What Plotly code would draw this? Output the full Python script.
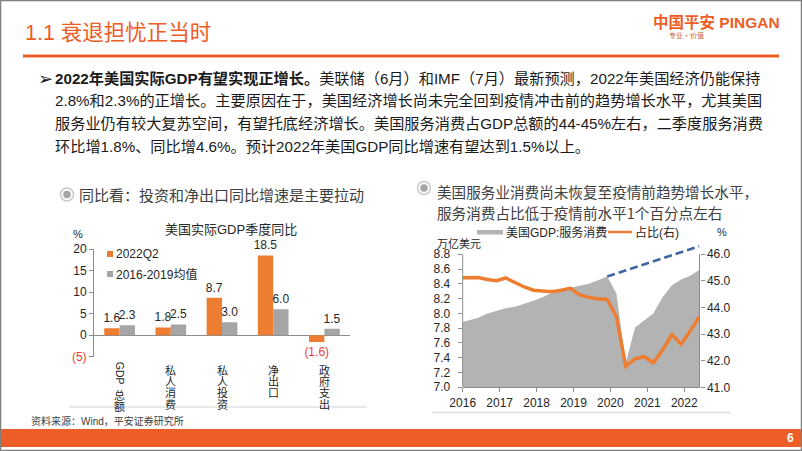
import re
import plotly.graph_objects as go

W, H = 802, 451


def px(x):
    return x / W


def py(y):
    return 1 - y / H


# ---------------- data: left chart ----------------
gdp_categories = ["GDP总额", "私人消费", "私人投资", "净出口", "政府支出"]
gdp_q2_2022 = [1.6, 1.8, 8.7, 18.5, -1.6]
gdp_avg_2016_2019 = [2.3, 2.5, 3.0, 6.0, 1.5]
left_tick_vals = [-5, 0, 5, 10, 15, 20]
left_tick_text = ["(5)", "0", "5", "10", "15", "20"]

# ---------------- data: right chart ----------------
quarters = ["2015-12", "2016-03", "2016-06", "2016-09", "2016-12",
            "2017-03", "2017-06", "2017-09", "2017-12",
            "2018-03", "2018-06", "2018-09", "2018-12",
            "2019-03", "2019-06", "2019-09", "2019-12",
            "2020-03", "2020-06", "2020-09", "2020-12",
            "2021-03", "2021-06", "2021-09", "2021-12",
            "2022-03", "2022-06"]
services_consumption = [7.87, 7.91, 7.94, 8.00, 8.04,
                        8.07, 8.09, 8.13, 8.17,
                        8.22, 8.28, 8.32, 8.35,
                        8.38, 8.40, 8.45, 8.50,
                        8.27, 7.33, 7.81, 7.91,
                        8.00, 8.22, 8.38, 8.46,
                        8.51, 8.59]
services_share = [45.12, 45.12, 45.13, 45.05, 45.01,
                  45.11, 44.93, 44.77, 44.65,
                  44.61, 44.59, 44.65, 44.72,
                  44.48, 44.38, 44.33, 44.30,
                  43.65, 41.80, 42.07, 42.15,
                  41.92, 42.40, 42.98, 42.62,
                  43.12, 43.66]
trend_dates = ["2019-12", "2022-06"]
trend_values = [8.50, 8.91]
left_axis_vals = [7.0, 7.2, 7.4, 7.6, 7.8, 8.0, 8.2, 8.4, 8.6, 8.8]
right_axis_vals = [41, 42, 43, 44, 45, 46]

# ---------------- styles ----------------
PA_ORANGE = "#EC5D27"
BAR_ORANGE = "#ED7D31"
BAR_GRAY = "#A5A5A5"
AREA_GRAY = "#B3B3B3"
TREND_BLUE = "#3E66A0"
NEG_RED = "#F03C3C"
TXT = "#262626"
AXIS = "#8C8C8C"
SANS = "Liberation Sans, Arial, Noto Sans CJK SC"
CJK = "Noto Sans CJK SC"
NARROW = "Liberation Sans Narrow, Arial Narrow, Liberation Sans, Noto Sans CJK SC"


def fmt_val(v):
    return f"({abs(v):.1f})" if v < 0 else f"{v:.1f}"


fig = go.Figure()

# ---- left chart bars ----
fig.add_trace(go.Bar(
    x=gdp_categories, y=gdp_q2_2022, name="2022Q2",
    marker=dict(color=BAR_ORANGE, line=dict(width=0)),
    text=[fmt_val(v) for v in gdp_q2_2022], textposition="outside",
    textfont=dict(family=SANS, size=12,
                  color=[NEG_RED if v < 0 else TXT for v in gdp_q2_2022]),
    cliponaxis=False, constraintext="none",
    xaxis="x", yaxis="y", showlegend=False, hoverinfo="skip"))
fig.add_trace(go.Bar(
    x=gdp_categories, y=gdp_avg_2016_2019, name="2016-2019均值",
    marker=dict(color=BAR_GRAY, line=dict(width=0)),
    text=[fmt_val(v) for v in gdp_avg_2016_2019], textposition="outside",
    textfont=dict(family=SANS, size=12,
                  color=[NEG_RED if v < 0 else TXT for v in gdp_avg_2016_2019]),
    cliponaxis=False, constraintext="none",
    xaxis="x", yaxis="y", showlegend=False, hoverinfo="skip"))

# ---- right chart ----
fig.add_trace(go.Scatter(
    x=quarters, y=services_consumption, name="美国GDP:服务消费",
    mode="lines", fill="tozeroy", fillcolor=AREA_GRAY,
    line=dict(width=0, color=AREA_GRAY),
    xaxis="x2", yaxis="y2", showlegend=False, hoverinfo="skip"))
fig.add_trace(go.Scatter(
    x=trend_dates, y=trend_values, mode="lines",
    line=dict(color=TREND_BLUE, width=2.5, dash="8px,4px"),
    xaxis="x2", yaxis="y2", showlegend=False, hoverinfo="skip"))
fig.add_trace(go.Scatter(
    x=quarters, y=services_share, name="占比(右)", mode="lines",
    line=dict(color=BAR_ORANGE, width=3.5),
    xaxis="x2", yaxis="y3", showlegend=False, hoverinfo="skip"))

# right chart geometry (pixels)
R_LEFT, R_RIGHT = 462.7, 699.5
R_BOTTOM, PX_PER_UNIT = 387.3, 73.9
Y2_TOP_VAL = 8.95
R_TOP = R_BOTTOM - (Y2_TOP_VAL - 7.0) * PX_PER_UNIT
Y3_TOP_VAL = 41 + (Y2_TOP_VAL - 7.0) / 1.8 * 5

axis_font = dict(family=SANS, size=12, color=TXT)

fig.update_layout(
    width=W, height=H,
    margin=dict(l=0, r=0, t=0, b=0, pad=0, autoexpand=False),
    paper_bgcolor="white", plot_bgcolor="rgba(0,0,0,0)",
    barmode="group", bargap=0.4, bargroupgap=0.0,
    showlegend=False,
    xaxis=dict(domain=[px(94), px(350)], anchor="y", type="category",
               showticklabels=False, showline=False, ticks="",
               showgrid=False, zeroline=False, fixedrange=True, automargin=False),
    yaxis=dict(domain=[py(356.7), py(249)], anchor="x", range=[-5, 20],
               tickmode="array", tickvals=left_tick_vals,
               ticktext=[f'<span style="color:{NEG_RED}">{t}</span>' if v < 0 else t
                         for v, t in zip(left_tick_vals, left_tick_text)],
               showline=True, linecolor=AXIS, linewidth=1,
               ticks="outside", ticklen=4, tickcolor=AXIS,
               showgrid=False, zeroline=True, zerolinecolor=AXIS,
               zerolinewidth=1, tickfont=axis_font, fixedrange=True, automargin=False),
    xaxis2=dict(domain=[px(R_LEFT), px(R_RIGHT)], anchor="y2", type="date",
                range=["2016-01-01", "2022-06-01"],
                tick0="2016-01-01", dtick="M12", tickformat="%Y",
                showline=True, linecolor=AXIS, linewidth=1,
                ticks="outside", ticklen=4, tickcolor=AXIS,
                showgrid=False, zeroline=False, tickfont=axis_font,
                fixedrange=True, automargin=False),
    yaxis2=dict(domain=[py(R_BOTTOM), py(R_TOP)], anchor="x2",
                range=[7.0, Y2_TOP_VAL], tickmode="array",
                tickvals=left_axis_vals,
                ticktext=[f"{v:.1f}" for v in left_axis_vals],
                showline=False, ticks="outside", ticklen=4, tickcolor=AXIS,
                ticklabelstandoff=5,
                showgrid=False, zeroline=False, tickfont=axis_font,
                fixedrange=True, automargin=False),
    yaxis3=dict(overlaying="y2", side="right", anchor="x2",
                range=[41, Y3_TOP_VAL], tickmode="array",
                tickvals=right_axis_vals,
                ticktext=[f"{v:.1f}" for v in right_axis_vals],
                showline=False, ticks="outside", ticklen=4, tickcolor=AXIS,
                showgrid=False, zeroline=False, tickfont=axis_font,
                fixedrange=True, automargin=False),
)

shapes = []
annotations = []


def rect_px(x0, y0, x1, y1, fill, line_color=None, lw=0):
    shapes.append(dict(type="rect", xref="paper", yref="paper",
                       x0=px(x0), x1=px(x1), y0=py(y1), y1=py(y0),
                       fillcolor=fill, line=dict(width=lw, color=line_color or fill),
                       layer="above"))


def line_px(x0, y0, x1, y1, color, width, dash=None):
    shapes.append(dict(type="line", xref="paper", yref="paper",
                       x0=px(x0), x1=px(x1), y0=py(y0), y1=py(y1),
                       line=dict(color=color, width=width, dash=dash),
                       layer="above"))


def text_px(x, y, text, size, color=TXT, family=CJK, xanchor="left",
            yanchor="middle", angle=0):
    annotations.append(dict(xref="paper", yref="paper", x=px(x), y=py(y),
                            text=text, showarrow=False, xanchor=xanchor,
                            yanchor=yanchor, textangle=angle, borderpad=0,
                            font=dict(size=size, color=color, family=family)))


def radio_icon(cx, cy):
    shapes.append(dict(type="circle", xref="paper", yref="paper",
                       x0=px(cx - 6.5), x1=px(cx + 6.5), y0=py(cy + 6.5), y1=py(cy - 6.5),
                       fillcolor="white", line=dict(color="#C9C9C9", width=1.5)))
    shapes.append(dict(type="circle", xref="paper", yref="paper",
                       x0=px(cx - 3.8), x1=px(cx + 3.8), y0=py(cy + 3.8), y1=py(cy - 3.8),
                       fillcolor="#A6A6A6", line=dict(width=0)))


# ---- slide frame ----
rect_px(0, 429, 802, 447, PA_ORANGE)
line_px(23, 56, 779, 56, PA_ORANGE, 3)
shapes.append(dict(type="rect", xref="paper", yref="paper",
                   x0=px(0.5), x1=px(801.5), y0=py(450.5), y1=py(0.5),
                   line=dict(color="#7F7F7F", width=1.5), layer="above"))

# title and logo
text_px(24, 33, "1.1 衰退担忧正当时", 21.5, PA_ORANGE, "Liberation Sans, Noto Sans CJK SC")
text_px(652, 22, "<b>中国平安 PINGAN</b>", 15.5, PA_ORANGE, "Liberation Sans, Noto Sans CJK SC")
text_px(668, 35, "专业·价值", 7, "#D06030", CJK)

# paragraph
para_font = NARROW
text_px(37, 78, "<b>➢</b>", 18, "#1A1A1A", "DejaVu Sans")
para_lines = [
    "<b>2022年美国实际GDP有望实现正增长。</b>美联储（6月）和IMF（7月）最新预测，2022年美国经济仍能保持",
    "2.8%和2.3%的正增长。主要原因在于，美国经济增长尚未完全回到疫情冲击前的趋势增长水平，尤其美国",
    "服务业仍有较大复苏空间，有望托底经济增长。美国服务消费占GDP总额的44-45%左右，二季度服务消费",
    "环比增1.8%、同比增4.6%。预计2022年美国GDP同比增速有望达到1.5%以上。",
]
for i, ln in enumerate(para_lines):
    text_px(54, 78 + i * 22.8, ln, 15.2, "#1A1A1A", para_font)

# subtitles
radio_icon(67, 194.5)
text_px(78, 194.5, "同比看：投资和净出口同比增速是主要拉动", 15, "#404040", CJK)
radio_icon(424, 188)
text_px(436, 191, "美国服务业消费尚未恢复至疫情前趋势增长水平，", 14.6, "#404040", CJK)
text_px(436, 212, "服务消费占比低于疫情前水平1个百分点左右", 14.6, "#404040", CJK)

# ---- left chart extras ----
text_px(231, 229, "美国实际GDP季度同比", 13, TXT, "Liberation Sans, Noto Sans CJK SC", xanchor="center")
text_px(78, 234, "%", 11, TXT, SANS, xanchor="center")
rect_px(107, 251, 113, 257, BAR_ORANGE)
text_px(115, 254, "2022Q2", 12, TXT, SANS)
rect_px(107, 271, 113, 277, BAR_GRAY)
text_px(115, 274, "2016-2019均值", 12, TXT, "Liberation Sans, Noto Sans CJK SC")

# vertical category labels: Latin runs rotated, CJK characters stacked
LINE_FS = 8.6          # controls stacking pitch (1.3 x font size)
CHAR_FS = 11           # displayed character size
for cat in gdp_categories:
    cur = 362.0
    latin = re.match(r"[A-Za-z0-9]+", cat)
    rest = cat
    if latin:
        tok = latin.group(0)
        h = 7.6 * len(tok)
        annotations.append(dict(xref="x", yref="paper", x=cat, y=py(cur + h / 2),
                                text=tok, showarrow=False, textangle=90,
                                xanchor="center", yanchor="middle", borderpad=0,
                                font=dict(size=10.5, color=TXT, family=SANS)))
        cur += h + 2
        rest = cat[len(tok):]
    stacked = "<br>".join(f'<span style="font-size:{CHAR_FS}px">{ch}</span>' for ch in rest)
    annotations.append(dict(xref="x", yref="paper", x=cat, y=py(cur - 1),
                            text=stacked, showarrow=False,
                            xanchor="center", yanchor="top", borderpad=0,
                            font=dict(size=LINE_FS, color=TXT, family=CJK)))
line_px(69, 407, 367, 407, "#E0E0E0", 1.5)

# ---- right chart extras ----
shapes.append(dict(type="line", xref="x2 domain", yref="y2", x0=0, x1=0,
                   y0=7.0, y1=8.8, line=dict(color=AXIS, width=1)))
shapes.append(dict(type="line", xref="x2 domain", yref="y3", x0=1, x1=1,
                   y0=41, y1=46, line=dict(color=AXIS, width=1)))
rect_px(477, 230, 503, 234.5, AREA_GRAY)
text_px(505, 232, "美国GDP:服务消费", 12, TXT, "Liberation Sans, Noto Sans CJK SC")
line_px(608, 232, 632, 232, BAR_ORANGE, 2.5)
text_px(634, 232, "占比(右)", 12, TXT, "Liberation Sans, Noto Sans CJK SC")
text_px(722, 232, "%", 11, TXT, SANS, xanchor="center")
text_px(459, 243, "万亿美元", 11, TXT, CJK, xanchor="center")
line_px(432, 412.5, 731, 412.5, "#E0E0E0", 1.5)

# footer
text_px(30, 421, "资料来源：Wind，平安证券研究所", 10, "#404040", "Liberation Sans, Noto Sans CJK SC")
text_px(795, 438, "<b>6</b>", 12, "white", SANS, xanchor="right")

fig.update_layout(shapes=shapes, annotations=annotations)
fig.write_html(
    "out.html",
    config={"displayModeBar": False, "staticPlot": True},
    post_script="document.body.style.margin='0';document.body.style.overflow='hidden';",
)
